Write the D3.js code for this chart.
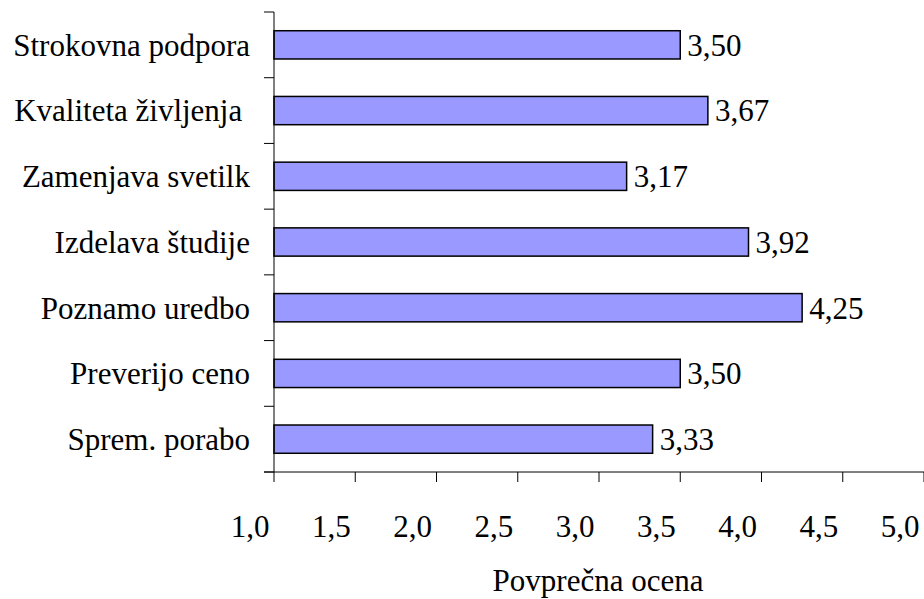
<!DOCTYPE html>
<html>
<head>
<meta charset="utf-8">
<script src="https://cdn.jsdelivr.net/npm/d3@7"></script>
<style>
  html, body { margin: 0; padding: 0; background: #fff; }
</style>
</head>
<body>
<svg id="chart" width="924" height="599"></svg>
<script>
// Average scores per statement (top to bottom)
const categories = ["Strokovna podpora", "Kvaliteta življenja ", "Zamenjava svetilk", "Izdelava študije", "Poznamo uredbo", "Preverijo ceno", "Sprem. porabo"];
const values = [3.50, 3.67, 3.17, 3.92, 4.25, 3.50, 3.33];
const xTicks = [1.0, 1.5, 2.0, 2.5, 3.0, 3.5, 4.0, 4.5, 5.0];
const xTitle = "Povprečna ocena";

const svg = d3.select("#chart");
const plot = { left: 274, right: 924, top: 12, bottom: 472 };
const fontSize = 31;
const family = "Liberation Serif";

const x = d3.scaleLinear().domain([1, 5]).range([plot.left, plot.right]);
const y = d3.scaleBand().domain(categories).range([plot.top, plot.bottom])
  .paddingInner(0.57).paddingOuter(0.285);
const fmt = v => d3.format(".2f")(v).replace(".", ",");
const fmtTick = v => d3.format(".1f")(v).replace(".", ",");

function label(sel) {
  return sel.style("font-family", family).attr("font-size", fontSize)
    .attr("xml:space", "preserve").attr("fill", "#000");
}

// Bars
svg.append("g").selectAll("rect").data(values).join("rect")
  .attr("x", x(1))
  .attr("y", (d, i) => y(categories[i]))
  .attr("width", d => x(d) - x(1))
  .attr("height", y.bandwidth())
  .attr("fill", "#9999ff")
  .attr("stroke", "#000")
  .attr("stroke-width", 1.5);

// Value labels
svg.append("g").selectAll("text").data(values).join("text")
  .attr("x", d => x(d) + 7)
  .attr("y", (d, i) => y(categories[i]) + y.bandwidth() / 2)
  .attr("dy", "0.35em")
  .call(label)
  .text(d => fmt(d));

// Vertical axis with separators between categories
const bandStep = (plot.bottom - plot.top) / categories.length;
const sepData = d3.range(categories.length + 1);
const ax = svg.append("g").attr("stroke", "#000").attr("stroke-width", 1);
ax.append("line").attr("x1", x(1)).attr("x2", x(1)).attr("y1", plot.top).attr("y2", plot.bottom);
ax.selectAll("line.sep").data(sepData).join("line").attr("class", "sep")
  .attr("x1", x(1) - 10).attr("x2", x(1))
  .attr("y1", i => plot.top + i * bandStep).attr("y2", i => plot.top + i * bandStep);

// Category labels
svg.append("g").selectAll("text").data(categories).join("text")
  .attr("x", 250)
  .attr("y", d => y(d) + y.bandwidth() / 2)
  .attr("dy", "0.35em")
  .attr("text-anchor", "end")
  .call(label)
  .text(d => d);

// Horizontal axis
ax.append("line").attr("x1", x(1) - 10).attr("x2", plot.right).attr("y1", plot.bottom).attr("y2", plot.bottom);
ax.selectAll("line.xt").data(xTicks).join("line").attr("class", "xt")
  .attr("x1", d => x(d)).attr("x2", d => x(d))
  .attr("y1", plot.bottom).attr("y2", plot.bottom + 10);

svg.append("g").selectAll("text").data(xTicks).join("text")
  .attr("x", d => x(d) - 24)
  .attr("y", 526)
  .attr("dy", "0.35em")
  .attr("text-anchor", "middle")
  .call(label)
  .text(d => fmtTick(d));

svg.append("text")
  .attr("x", 598)
  .attr("y", 580)
  .attr("dy", "0.35em")
  .attr("text-anchor", "middle")
  .call(label)
  .text(xTitle);
</script>
</body>
</html>
